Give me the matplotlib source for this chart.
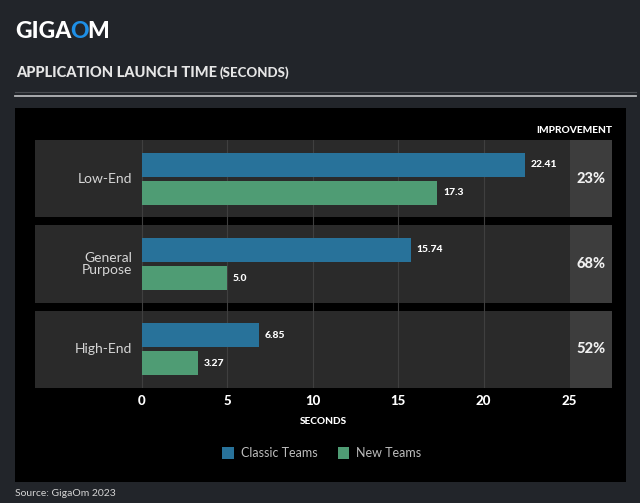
import matplotlib
matplotlib.use("Agg")
import matplotlib.pyplot as plt
from matplotlib.patches import Rectangle

categories = ["Low-End", "General\nPurpose", "High-End"]
classic_teams = [22.41, 15.74, 6.85]
new_teams = [17.3, 5.0, 3.27]
classic_labels = ["22.41", "15.74", "6.85"]
new_labels = ["17.3", "5.0", "3.27"]
improvement = ["23%", "68%", "52%"]
x_ticks = [0, 5, 10, 15, 20, 25]
series_names = ["Classic Teams", "New Teams"]

W, H = 640, 503
BG = "#22252a"
BLUE = "#28729a"
GREEN = "#4f9c74"
BAND = "#2a2a2a"
COL = "#3d3d3d"

plt.rcParams["font.family"] = ["Lato", "DejaVu Sans"]

fig = plt.figure(figsize=(W / 100, H / 100), dpi=100, facecolor=BG)

def fx(px):
    return px / W

def fy(py):
    return 1 - py / H

# black panel
fig.patches.append(Rectangle((fx(15), fy(482)), fx(626) - fx(15), fy(108) - fy(482),
                             transform=fig.transFigure, facecolor="#000000", edgecolor="none", zorder=-5))
# separator lines
fig.add_artist(plt.Line2D([fx(15), fx(636)], [fy(92), fy(92)], color="#4a4d52", lw=0.8, transform=fig.transFigure))
fig.add_artist(plt.Line2D([fx(15), fx(636)], [fy(95.5), fy(95.5)], color="#b4b6b8", lw=1.3, transform=fig.transFigure))

# logo
t1 = fig.text(fx(15), fy(32), "GIGA", color="white", fontsize=16.5, fontweight="black",
              va="center", ha="left")
fig.canvas.draw()
r = fig.canvas.get_renderer()
bb = t1.get_window_extent(r)
t2 = fig.text(bb.x1 / W - 0.002, fy(32), "O", color="#1e8fe6", fontsize=16.5, fontweight="black",
              va="center", ha="left")
bb2 = t2.get_window_extent(r)
fig.text(bb2.x1 / W - 0.002, fy(32), "M", color="white", fontsize=16.5, fontweight="black",
         va="center", ha="left")

# title
tt = fig.text(fx(16), fy(73), "APPLICATION LAUNCH TIME", color="#e6e6e6", fontsize=10.5,
              fontweight="black", va="center", ha="left")
bbt = tt.get_window_extent(r)
fig.text(bbt.x1 / W + 0.004, fy(73), "(SECONDS)", color="#e6e6e6", fontsize=9.5,
         fontweight="black", va="center", ha="left")

# data axes
ax = fig.add_axes([fx(35), fy(388), fx(612) - fx(35), fy(140) - fy(388)])
ax.set_facecolor("none")
ppu = (569 - 142) / 25.0
xmin = -(142 - 35) / ppu
xmax = 25 + (612 - 569) / ppu
half = 0.453
ax.set_xlim(xmin, xmax)
ax.set_ylim(len(categories) - 1 + half, -half)
for s in ax.spines.values():
    s.set_visible(False)

ypos = list(range(len(categories)))
for y in ypos:
    ax.add_patch(Rectangle((xmin, y - half), 25.05 - xmin, 2 * half, facecolor=BAND, edgecolor="none", zorder=0))
    ax.add_patch(Rectangle((25.05, y - half), xmax - 25.05, 2 * half, facecolor=COL, edgecolor="none", zorder=0))

for xv in x_ticks[:-1]:
    ax.axvline(xv, color="#3f3f3f", lw=0.8, zorder=1)

off = 0.165
bh = 0.28
ax.barh([y - off for y in ypos], classic_teams, height=bh, color=BLUE, zorder=2, label=series_names[0])
ax.barh([y + off for y in ypos], new_teams, height=bh, color=GREEN, zorder=2, label=series_names[1])

for y, v, lab in zip(ypos, classic_teams, classic_labels):
    ax.annotate(lab, (v, y - off), xytext=(4, 0), textcoords="offset points", va="center", ha="left",
                color="white", fontsize=7.5, fontweight="black")
for y, v, lab in zip(ypos, new_teams, new_labels):
    ax.annotate(lab, (v, y + off), xytext=(4, 0), textcoords="offset points", va="center", ha="left",
                color="white", fontsize=7.5, fontweight="black")

for y, cat, imp in zip(ypos, categories, improvement):
    ax.text(-0.6, y, cat, ha="right", va="center", color="#d6d6d6", fontsize=10, linespacing=1.0)
    ax.text((25.05 + xmax) / 2, y, imp, ha="center", va="center", color="#f0f0f0", fontsize=10.5,
            fontweight="black")

ax.text(xmax, -half - 0.06, "IMPROVEMENT", ha="right", va="bottom", color="white", fontsize=7.3,
        fontweight="black")

ax.set_yticks([])
ax.set_xticks(x_ticks)
ax.set_xticklabels([str(t) for t in x_ticks], color="white", fontsize=9.5, fontweight="black")
ax.tick_params(axis="x", length=0, pad=5)
ax.set_xlabel("SECONDS", color="white", fontsize=7.3, fontweight="black", labelpad=7)

leg = ax.legend(loc="upper center", bbox_to_anchor=(fx(322), fy(436)), bbox_transform=fig.transFigure,
                ncol=2, frameon=False, fontsize=9, labelcolor="#bdbdbd", handlelength=0.9,
                handleheight=1.0, columnspacing=1.6, handletextpad=0.6)

fig.text(fx(15), fy(494), "Source: GigaOm 2023", color="#d4d4d4", fontsize=7.5, va="center", ha="left")

fig.savefig("out.png", dpi=100, facecolor=BG)
